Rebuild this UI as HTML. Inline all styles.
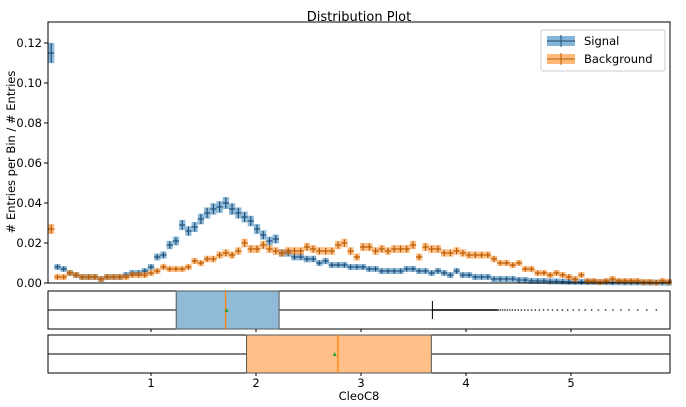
<!DOCTYPE html>
<html><head><meta charset="utf-8"><style>
body{margin:0;background:#fff;}
svg{display:block;font-family:"DejaVu Sans","Liberation Sans",sans-serif;}
</style></head><body>
<svg id="c" width="686" height="407" viewBox="0 0 686 407"></svg>
<script>
const signal=[0.115,0.008,0.007,0.005,0.004,0.003,0.003,0.003,0.002,0.003,0.003,0.003,0.004,0.005,0.005,0.006,0.008,
0.013,0.014,0.019,0.021,0.029,0.026,0.028,0.032,0.035,0.037,0.038,0.040,0.037,0.035,0.033,0.031,0.027,0.024,0.021,0.022,0.015,0.015,0.013,0.013,0.012,0.012,0.010,0.011,0.009,0.009,0.009,0.008,
0.008,0.008,0.007,0.007,0.006,0.006,0.006,0.006,0.007,0.007,0.006,0.006,0.005,0.006,0.005,0.004,0.006,0.004,0.004,0.003,0.003,0.003,0.002,0.002,0.002,0.002,0.0015,0.0015,0.001,0.001,0.001,0.0008,0.0008,0.0007,0.0006,0.0006,0.0005,0.0005,0.0005,0.0004,0.0004,0.0003,0.0004,0.0003,0.0003,0.0003,0.0002,0.0002,0.0002,0.0002,0.0001];
const background=[0.027,0.003,0.003,0.005,0.004,0.003,0.003,0.003,0.002,0.003,0.003,0.003,0.003,0.004,0.004,0.004,0.005,
0.006,0.008,0.007,0.007,0.007,0.008,0.011,0.010,0.012,0.012,0.014,0.015,0.014,0.016,0.020,0.017,0.017,0.019,0.017,0.016,0.015,0.016,0.016,0.016,0.018,0.017,0.016,0.016,0.016,0.019,0.020,0.016,
0.013,0.018,0.018,0.016,0.017,0.016,0.017,0.017,0.017,0.019,0.013,0.018,0.017,0.017,0.015,0.015,0.016,0.015,0.014,0.014,0.014,0.014,0.012,0.010,0.010,0.009,0.010,0.007,0.007,0.005,0.005,0.004,0.005,0.004,0.003,0.002,0.004,0.001,0.001,0.0005,0.001,0.002,0.001,0.001,0.001,0.001,0.0005,0.0005,0.0002,0.001,0.0005];
const yTicks=[0.00,0.02,0.04,0.06,0.08,0.10,0.12];
const xTicks=[1,2,3,4,5];
const sigBox={lo:0.02,q1:1.24,med:1.71,mean:1.72,q3:2.22,hi:3.68};
const bkgBox={lo:0.02,q1:1.91,med:2.78,mean:2.75,q3:3.67,hi:5.94};
const xMin=0.02,binW=(5.94)/100;
const L=48,R=670,T=22,B=283;
const X=v=>46+105*v;
const Y=v=>B-v*2000;
const svg=document.getElementById('c');
const NS='http://www.w3.org/2000/svg';
function mk(tag,attrs,parent){const e=document.createElementNS(NS,tag);for(const k in attrs)e.setAttribute(k,attrs[k]);(parent||svg).appendChild(e);return e;}
let t=mk('text',{x:359,y:21,'text-anchor':'middle','font-size':13,fill:'#000'});t.textContent='Distribution Plot';


t=mk('text',{x:15,y:152,'text-anchor':'middle','font-size':11.5,transform:'rotate(-90 15 152)'});t.textContent='# Entries per Bin / # Entries';


yTicks.forEach(v=>{const y=Y(v);mk('line',{x1:L-4,x2:L,y1:y,y2:y,stroke:'#000','stroke-width':1});
const tt=mk('text',{x:L-6,y:y+4,'text-anchor':'end','font-size':11.5});tt.textContent=v.toFixed(2);

});
function series(arr,fill,stroke,name){const g=mk('g',{});


arr.forEach((v,i)=>{const cx=X(xMin+binW*(i+0.5)),cy=Y(v);const hw=binW*105/2;
const h=Math.max(6,Math.sqrt(v)*60);
const r=mk('rect',{x:cx-hw,y:cy-h/2,width:hw*2,height:h,fill:fill,opacity:0.5},g);


mk('line',{x1:cx-hw,x2:cx+hw,y1:cy,y2:cy,stroke:stroke,'stroke-width':1.2},g);
mk('line',{x1:cx,x2:cx,y1:cy-h/2+0.5,y2:cy+h/2-0.5,stroke:stroke,'stroke-width':1.2},g);});}
series(signal,'#1f77b4','#1f4e79','signal-series');
series(background,'#ff7f0e','#b85a00','background-series');
mk('rect',{x:L,y:T,width:R-L,height:B-T,fill:'none',stroke:'#000','stroke-width':1});
const lg=mk('g',{});


mk('rect',{x:541,y:30,width:124,height:41,fill:'#fff',stroke:'#ccc',rx:2},lg);
[['Signal','#1f77b4','#1f4e79',41],['Background','#ff7f0e','#b85a00',59]].forEach(([n,f,s,y])=>{
mk('rect',{x:547,y:y-5,width:28,height:10,fill:f,opacity:0.55},lg);
mk('line',{x1:547,x2:575,y1:y,y2:y,stroke:s},lg);mk('line',{x1:561,x2:561,y1:y-6,y2:y+6,stroke:s},lg);
const tt=mk('text',{x:584,y:y+4,'font-size':11.5},lg);tt.textContent=n;

});
function box(b,top,bot,fill,name,outliers){const g=mk('g',{});


const mid=(top+bot)/2;
mk('rect',{x:L,y:top,width:R-L,height:bot-top,fill:'none',stroke:'#000'},g);
mk('line',{x1:X(b.lo),x2:X(b.q1),y1:mid,y2:mid,stroke:'#000'},g);
mk('line',{x1:X(b.q3),x2:X(b.hi),y1:mid,y2:mid,stroke:'#000'},g);
mk('rect',{x:X(b.q1),y:top,width:X(b.q3)-X(b.q1),height:bot-top,fill:fill,stroke:'#555'},g);
mk('line',{x1:X(b.med),x2:X(b.med),y1:top,y2:bot,stroke:'#ff7f0e','stroke-width':1.3},g);
mk('path',{d:`M${X(b.mean)-2},${mid+2}L${X(b.mean)+2},${mid+2}L${X(b.mean)},${mid-2}Z`,fill:'#2ca02c'},g);
if(outliers){mk('line',{x1:X(b.hi),x2:X(b.hi),y1:mid-9,y2:mid+9,stroke:'#000'},g);
mk('line',{x1:X(b.hi),x2:X(4.3),y1:mid,y2:mid,stroke:'#000','stroke-width':1.5},g);
for(let v=4.3;v<5.85;v+=0.02+(v-4.3)*0.05){mk('rect',{x:X(v),y:mid-0.6,width:1.4,height:1.2,fill:'#000'},g);}}}
box(sigBox,291,329,'#8fbbd9','signal-boxplot',true);
box(bkgBox,335,373,'#ffbf86','background-boxplot',false);
xTicks.forEach(v=>{mk('line',{x1:X(v),x2:X(v),y1:329,y2:332,stroke:'#000'});mk('line',{x1:X(v),x2:X(v),y1:373,y2:376,stroke:'#000'});
const tt=mk('text',{x:X(v),y:387,'text-anchor':'middle','font-size':11.5});tt.textContent=v;

});
t=mk('text',{x:359,y:400,'text-anchor':'middle','font-size':11.5});t.textContent='CleoC8';


</script>
</body></html>
